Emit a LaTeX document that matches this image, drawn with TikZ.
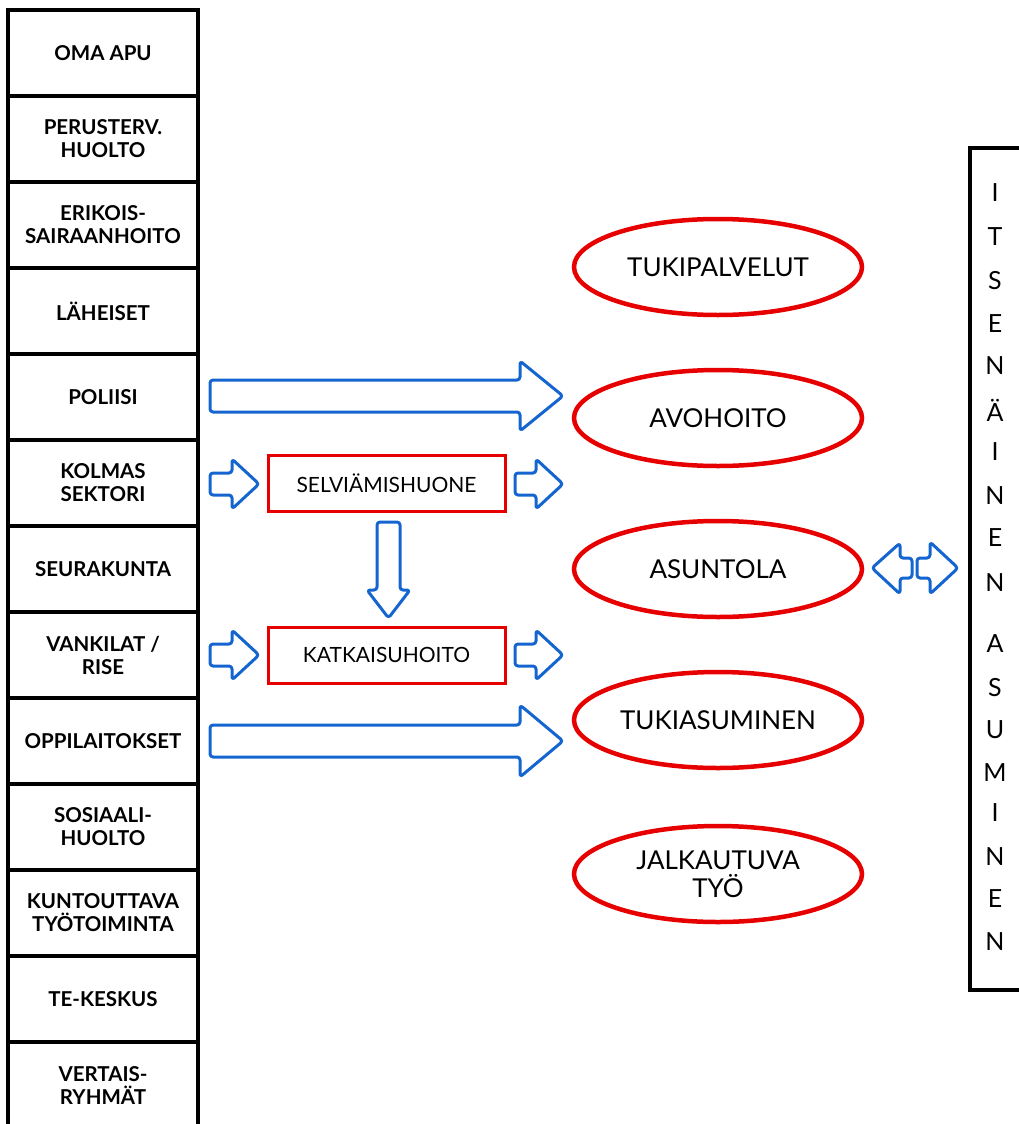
\documentclass[tikz,border=0pt]{standalone}
\usepackage{fontspec}
\setmainfont{Lato}
\usetikzlibrary{shapes.geometric}
\definecolor{myred}{RGB}{230,0,0}
\definecolor{myblue}{RGB}{21,101,208}
\tikzset{
  leftbox/.style={draw=black,line width=4pt,minimum width=190pt,minimum height=86pt,align=center,font=\fontsize{20.5}{23}\selectfont\bfseries,inner sep=0pt},
  oval/.style={ellipse,draw=myred,line width=4.5pt,minimum width=288pt,minimum height=96pt,align=center,font=\fontsize{26}{28}\selectfont,inner sep=0pt},
  redbox/.style={draw=myred,line width=3pt,minimum width=237pt,minimum height=56pt,font=\fontsize{21}{23}\selectfont,inner sep=0pt},
  blockarrow/.style={draw=myblue,line width=3pt,fill=white,rounded corners=3pt,line join=round},
  letter/.style={font=\fontsize{25}{30}\selectfont,inner sep=0pt}
}
\newcommand{\rarr}[6]{% x0 xh xt yc b h
  \draw[blockarrow] (#1,#4-#5) -- (#2,#4-#5) -- (#2,#4-#6) -- (#3,#4) -- (#2,#4+#6) -- (#2,#4+#5) -- (#1,#4+#5) -- cycle;}
\begin{document}
\begin{tikzpicture}[x=1pt,y=-1pt]
\useasboundingbox (0,0) rectangle (1019,1124);
\begin{scope}
\clip (0,0) rectangle (1019,1124);
% left column
\foreach \t [count=\i from 0] in {OMA APU,PERUSTERV.\\HUOLTO,ERIKOIS-\\SAIRAANHOITO,LÄHEISET,POLIISI,KOLMAS\\SEKTORI,SEURAKUNTA,VANKILAT /\\RISE,OPPILAITOKSET,SOSIAALI-\\HUOLTO,KUNTOUTTAVA\\TYÖTOIMINTA,TE-KESKUS,VERTAIS-\\RYHMÄT}{
  \node[leftbox] (L\i) at (103,{53+86*\i}) {\t};
}
% right box
\draw[black,line width=4pt] (1040,148) -- (970,148) -- (970,990) -- (1040,990);
\end{scope}
\foreach \c/\y [count=\k] in {I/193,T/237,S/281,E/324,N/366,Ä/410,I/452,N/496,E/538,N/583,A/644,S/688,U/730,M/773,I/813,N/857,E/899,N/942}{
  \node[letter] (R\k) at (995,\y) {\c};
}
% ovals
\node[oval] (tuki) at (718,267) {TUKIPALVELUT};
\node[oval] (avo) at (718,418) {AVOHOITO};
\node[oval] (asun) at (718,569) {ASUNTOLA};
\node[oval] (tukias) at (718,720) {TUKIASUMINEN};
\node[oval] (jalk) at (718,874) {JALKAUTUVA\\TYÖ};
% red boxes
\node[redbox] (selv) at (386.5,483) {SELVIÄMISHUONE};
\node[redbox] (katk) at (386.5,655) {KATKAISUHOITO};
% arrows
\rarr{210}{520}{563}{396}{16}{35}
\rarr{210}{520}{563}{741}{16}{36}
\rarr{210}{232}{259}{484}{11}{25}
\rarr{515}{536}{563}{484}{11}{25}
\rarr{210}{232}{259}{655}{11}{25}
\rarr{515}{536}{563}{655}{11}{25}
% down arrow
\draw[blockarrow] (377,522) -- (400,522) -- (400,590) -- (410,590) -- (388.5,618) -- (367,590) -- (377,590) -- cycle;
% double arrows
\draw[blockarrow] (912,558) -- (900,558) -- (900,543) -- (872,568) -- (900,594) -- (900,578) -- (912,578) -- cycle;
\rarr{917}{930}{958}{568}{10}{26}
\end{tikzpicture}
\end{document}
